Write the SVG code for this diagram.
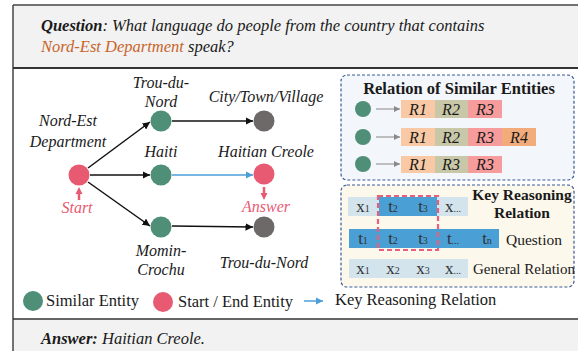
<svg xmlns="http://www.w3.org/2000/svg" width="578" height="351" viewBox="0 0 578 351" font-family="Liberation Serif, Times New Roman, serif">
  <style>
    text { fill: #1a1a1a; }
    .lbl { font-size: 16px; font-style: italic; text-anchor: middle; }
    .red { fill: #e85a72; }
    .green { fill: #4f8f78; }
    .gray { fill: #6d6969; }
    .edge { stroke: #111; stroke-width: 1.5; fill: none; marker-end: url(#ah); }
    .key { stroke: #4a9fd8; stroke-width: 1.5; fill: none; marker-end: url(#ahb); }
    .thin { stroke: #9a9a9a; stroke-width: 1.2; fill: none; marker-end: url(#ahg); }
    .box { stroke: #3a5a9a; stroke-width: 1.2; stroke-dasharray: 3 2; }
    .r { font-size: 16px; font-style: italic; text-anchor: middle; }
    .cell { font-size: 17px; text-anchor: middle; fill: #333; }
    .sub { font-size: 10px; }
    .leg { font-size: 16.5px; }
  </style>
  <defs>
    <marker id="ah" viewBox="0 0 10 10" refX="10" refY="5" markerWidth="5" markerHeight="5" orient="auto" markerUnits="strokeWidth">
      <path d="M0,0 L10,5 L0,10 z" fill="#111"/>
    </marker>
    <marker id="ahb" viewBox="0 0 10 10" refX="10" refY="5" markerWidth="5" markerHeight="5" orient="auto" markerUnits="strokeWidth">
      <path d="M0,0 L10,5 L0,10 z" fill="#4a9fd8"/>
    </marker>
    <marker id="ahg" viewBox="0 0 10 10" refX="10" refY="5" markerWidth="5" markerHeight="5" orient="auto" markerUnits="strokeWidth">
      <path d="M0,0 L10,5 L0,10 z" fill="#8a8a8a"/>
    </marker>
  </defs>

  <!-- frame and bands -->
  <rect x="0" y="0" width="578" height="351" fill="#ffffff"/>
  <rect x="13" y="5" width="570" height="63" fill="#f2f2f2"/>
  <rect x="13" y="319" width="570" height="40" fill="#f2f2f2"/>
  <line x1="13" y1="5" x2="578" y2="5" stroke="#444" stroke-width="1.5"/>
  <line x1="13" y1="5" x2="13" y2="351" stroke="#444" stroke-width="1.5"/>
  <line x1="13" y1="68" x2="578" y2="68" stroke="#333" stroke-width="2"/>
  <line x1="13" y1="319" x2="578" y2="319" stroke="#333" stroke-width="1.5"/>

  <!-- question -->
  <text x="41" y="31" font-size="16.5" font-style="italic"><tspan font-weight="bold">Question</tspan>: What language do people from the country that contains</text>
  <text x="41" y="52" font-size="16.5" font-style="italic"><tspan fill="#c8642a">Nord-Est Department</tspan> speak?</text>

  <!-- connectors -->
  <g id="connectors">
    <line class="edge" x1="88" y1="168" x2="150" y2="122"/>
    <line class="edge" x1="90" y1="175" x2="150" y2="175"/>
    <line class="edge" x1="88" y1="182" x2="150" y2="226"/>
    <line class="edge" x1="172" y1="121" x2="253" y2="121"/>
    <line class="key" x1="172" y1="175" x2="253" y2="175"/>
    <line class="edge" x1="172" y1="226" x2="253" y2="227"/>
    <path d="M79,200 L79,193" stroke="#e85a72" stroke-width="2.5"/>
    <path d="M75.5,194 L79,187 L82.5,194 z" fill="#e85a72"/>
    <path d="M264,187 L264,194" stroke="#e85a72" stroke-width="2.5"/>
    <path d="M260.5,193 L264,200 L267.5,193 z" fill="#e85a72"/>
  </g>

  <!-- nodes -->
  <g id="start">
    <circle class="red" cx="79" cy="175" r="10.5"/>
    <text class="lbl" x="68" y="126">Nord-Est</text>
    <text class="lbl" x="68" y="147">Department</text>
    <text class="lbl red" x="77" y="213">Start</text>
  </g>
  <g id="trou-du-nord-a">
    <circle class="green" cx="161" cy="121" r="10.5"/>
    <text class="lbl" x="161" y="88">Trou-du-</text>
    <text class="lbl" x="161" y="107">Nord</text>
  </g>
  <g id="haiti">
    <circle class="green" cx="161" cy="175" r="10.5"/>
    <text class="lbl" x="161" y="157">Haiti</text>
  </g>
  <g id="momin-crochu">
    <circle class="green" cx="161" cy="227" r="10.5"/>
    <text class="lbl" x="161" y="256">Momin-</text>
    <text class="lbl" x="161" y="275">Crochu</text>
  </g>
  <g id="city-town-village">
    <circle class="gray" cx="264" cy="121" r="10.5"/>
    <text class="lbl" x="266" y="102">City/Town/Village</text>
  </g>
  <g id="haitian-creole">
    <circle class="red" cx="264" cy="174" r="10.5"/>
    <text class="lbl" x="266" y="157">Haitian Creole</text>
    <text class="lbl red" x="266" y="212">Answer</text>
  </g>
  <g id="trou-du-nord-b">
    <circle class="gray" cx="264" cy="227" r="10.5"/>
    <text class="lbl" x="264" y="268">Trou-du-Nord</text>
  </g>

  <!-- relation of similar entities -->
  <g id="similar-relations">
    <rect class="box" x="341" y="75" width="233" height="105" rx="6" fill="#f3f6fa"/>
    <text x="459" y="94" font-size="16.5" font-weight="bold" text-anchor="middle">Relation of Similar Entities</text>
    <circle class="green" cx="363" cy="109" r="8"/>
    <circle class="green" cx="363" cy="137" r="8"/>
    <circle class="green" cx="363" cy="164" r="8"/>
    <line class="thin" x1="376" y1="109" x2="400" y2="109"/>
    <line class="thin" x1="376" y1="137" x2="400" y2="137"/>
    <line class="thin" x1="376" y1="164" x2="400" y2="164"/>
    <rect x="401" y="100" width="34" height="18" fill="#f8c9a4"/>
    <rect x="435" y="100" width="33" height="18" fill="#c8c8a8"/>
    <rect x="468" y="100" width="34" height="18" fill="#f79c9c"/>
    <text class="r" x="418" y="115">R1</text>
    <text class="r" x="451" y="115">R2</text>
    <text class="r" x="485" y="115">R3</text>
    <rect x="401" y="128" width="34" height="18" fill="#f8c9a4"/>
    <rect x="435" y="128" width="33" height="18" fill="#c8c8a8"/>
    <rect x="468" y="128" width="34" height="18" fill="#f79c9c"/>
    <rect x="502" y="128" width="34" height="18" fill="#f2ab7a"/>
    <text class="r" x="418" y="143">R1</text>
    <text class="r" x="451" y="143">R2</text>
    <text class="r" x="485" y="143">R3</text>
    <text class="r" x="519" y="143">R4</text>
    <rect x="401" y="156" width="34" height="17" fill="#f8c9a4"/>
    <rect x="435" y="156" width="33" height="17" fill="#c8c8a8"/>
    <rect x="468" y="156" width="34" height="17" fill="#f79c9c"/>
    <text class="r" x="418" y="170">R1</text>
    <text class="r" x="451" y="170">R3</text>
    <text class="r" x="485" y="170">R3</text>
  </g>

  <!-- key reasoning relation -->
  <g id="key-reasoning">
    <rect class="box" x="341" y="185" width="233" height="102" rx="6" fill="#fdf8ec"/>
    <text x="522" y="200" font-size="15.5" font-weight="bold" text-anchor="middle">Key Reasoning</text>
    <text x="522" y="218" font-size="15.5" font-weight="bold" text-anchor="middle">Relation</text>
    <rect x="348" y="197" width="120" height="19" fill="#d3e4ed"/>
    <rect x="379" y="197" width="58" height="19" fill="#4a9fd5"/>
    <rect x="349" y="229" width="150" height="19" fill="#4a9fd5"/>
    <rect x="349" y="259" width="119" height="19" fill="#d3e4ed"/>
    <text class="cell" x="363" y="212">x<tspan class="sub">1</tspan></text>
    <text class="cell" x="393" y="212">t<tspan class="sub">2</tspan></text>
    <text class="cell" x="423" y="212">t<tspan class="sub">3</tspan></text>
    <text class="cell" x="453" y="212">x<tspan class="sub">...</tspan></text>
    <text class="cell" x="363" y="244">t<tspan class="sub">1</tspan></text>
    <text class="cell" x="393" y="244">t<tspan class="sub">2</tspan></text>
    <text class="cell" x="423" y="244">t<tspan class="sub">3</tspan></text>
    <text class="cell" x="453" y="244">t<tspan class="sub">...</tspan></text>
    <text class="cell" x="487" y="244">t<tspan class="sub">n</tspan></text>
    <text class="cell" x="363" y="274">x<tspan class="sub">1</tspan></text>
    <text class="cell" x="393" y="274">x<tspan class="sub">2</tspan></text>
    <text class="cell" x="423" y="274">x<tspan class="sub">3</tspan></text>
    <text class="cell" x="453" y="274">x<tspan class="sub">...</tspan></text>
    <rect x="378" y="196" width="60" height="54" fill="none" stroke="#e8607a" stroke-width="2.2" stroke-dasharray="5 3"/>
    <text x="506" y="245" font-size="15.5">Question</text>
    <text x="473" y="274" font-size="15">General Relation</text>
  </g>

  <!-- legend -->
  <g id="legend">
    <circle class="green" cx="33" cy="301" r="10"/>
    <text class="leg" x="46" y="306">Similar Entity</text>
    <circle class="red" cx="163" cy="302" r="10"/>
    <text class="leg" x="178" y="307">Start / End Entity</text>
    <line class="key" x1="304" y1="301" x2="323" y2="301"/>
    <text class="leg" x="335" y="305">Key Reasoning Relation</text>
  </g>

  <!-- answer -->
  <text x="41" y="344" font-size="16.5" font-style="italic"><tspan font-weight="bold">Answer:</tspan> Haitian Creole.</text>
</svg>
